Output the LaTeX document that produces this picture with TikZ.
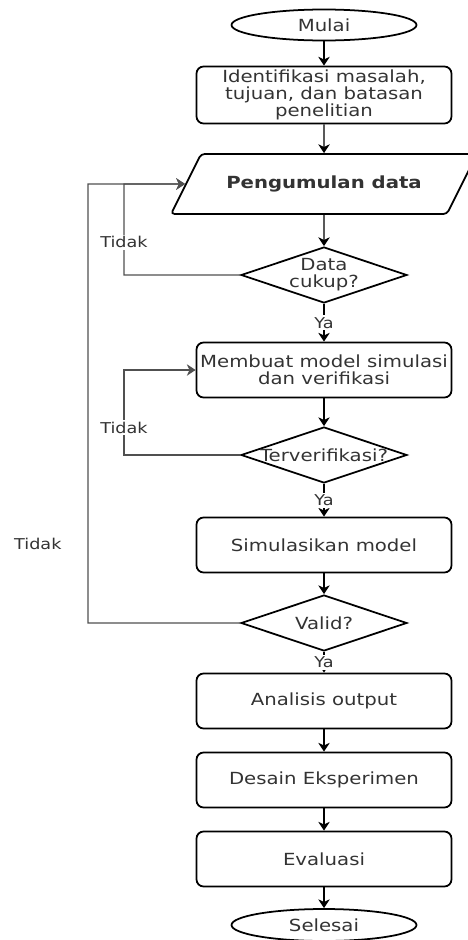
\documentclass[tikz,border=0pt]{standalone}
\usepackage{fontspec}
\setmainfont{DejaVu Sans}[FakeStretch=1.18]
\usetikzlibrary{shapes.geometric,arrows.meta}
\definecolor{txtgray}{HTML}{333333}
\definecolor{loopgray}{HTML}{505050}

\begin{document}
\begin{tikzpicture}[x=0.02cm,y=-0.02cm,>={Stealth[length=5pt,width=6.5pt,inset=1.5pt]},
	every node/.style={text=txtgray,font=\fontsize{9.5}{9.8}\selectfont},
	terminal/.style={ellipse,draw=black,line width=1pt,minimum width=3.7cm,minimum height=0.62cm,inner sep=0pt},
	process/.style={rectangle,rounded corners=4pt,draw=black,line width=1pt,minimum width=5.1cm,minimum height=1.1cm,inner sep=1pt,align=center},
	decision/.style={diamond,draw=black,line width=1pt,minimum width=3.32cm,minimum height=1.12cm,inner sep=0pt},
	inout/.style={trapezium,trapezium left angle=43,trapezium right angle=137,trapezium stretches body,draw=black,line width=1pt,rounded corners=2pt,minimum width=6.12cm,minimum height=1.2cm,font=\bfseries\fontsize{9.5}{11}\selectfont},
	lbl/.style={fill=white,inner sep=1pt,font=\fontsize{8.5}{10}\selectfont}]

\useasboundingbox (0,0) rectangle (467,940);

\node [terminal] (mulai)    at (324, 25) {Mulai};
\node [process,minimum height=1.14cm] (ident) at (324, 95) {Identifikasi masalah,\\tujuan, dan batasan\\penelitian};
\node [inout]    (data)     at (324,184) {Pengumulan data};
\node [decision,label={[align=center]center:Data\\cukup?}] (cukup) at (324,275) {};
\node [process]  (membuat)  at (324,370) {Membuat model simulasi\\dan verifikasi};
\node [decision,label=center:Terverifikasi?] (verif) at (324,455) {};
\node [process]  (simulasi) at (324,545) {Simulasikan model};
\node [decision,label=center:Valid?] (valid) at (324,623) {};
\node [process]  (analisis) at (324,701) {Analisis output};
\node [process]  (desain)   at (324,780) {Desain Eksperimen};
\node [process]  (evaluasi) at (324,859) {Evaluasi};
\node [terminal,minimum height=0.64cm] (selesai) at (324,925) {Selesai};

\coordinate (inner) at (124,0);
\coordinate (outer) at (88,0);

\path[->,line width=0.8pt]
	(mulai) edge (ident)
	(ident) edge (data)
	(data) edge (cukup)
	(cukup) edge node [lbl] {Ya} (membuat)
	(membuat) edge (verif)
	(verif) edge node [lbl] {Ya} (simulasi)
	(simulasi) edge (valid)
	(valid) edge node [lbl] {Ya} (analisis)
	(analisis) edge (desain)
	(desain) edge (evaluasi)
	(evaluasi) edge (selesai)
;

% jalur kembali
\draw [->,draw=loopgray,line width=0.8pt] (cukup.west) -| node [lbl,pos=0.68] {Tidak} (inner |- data) -- (data);
\draw [->,draw=loopgray,line width=0.8pt] (verif.west) -| node [lbl,pos=0.66] {Tidak} (inner |- membuat) -- (membuat);
\draw [->,draw=loopgray,line width=0.8pt] (valid.west) -| node [pos=0.59,left=4mm,font=\fontsize{8.5}{10}\selectfont] {Tidak} (outer |- data) -- (data);

\end{tikzpicture}
\end{document}
